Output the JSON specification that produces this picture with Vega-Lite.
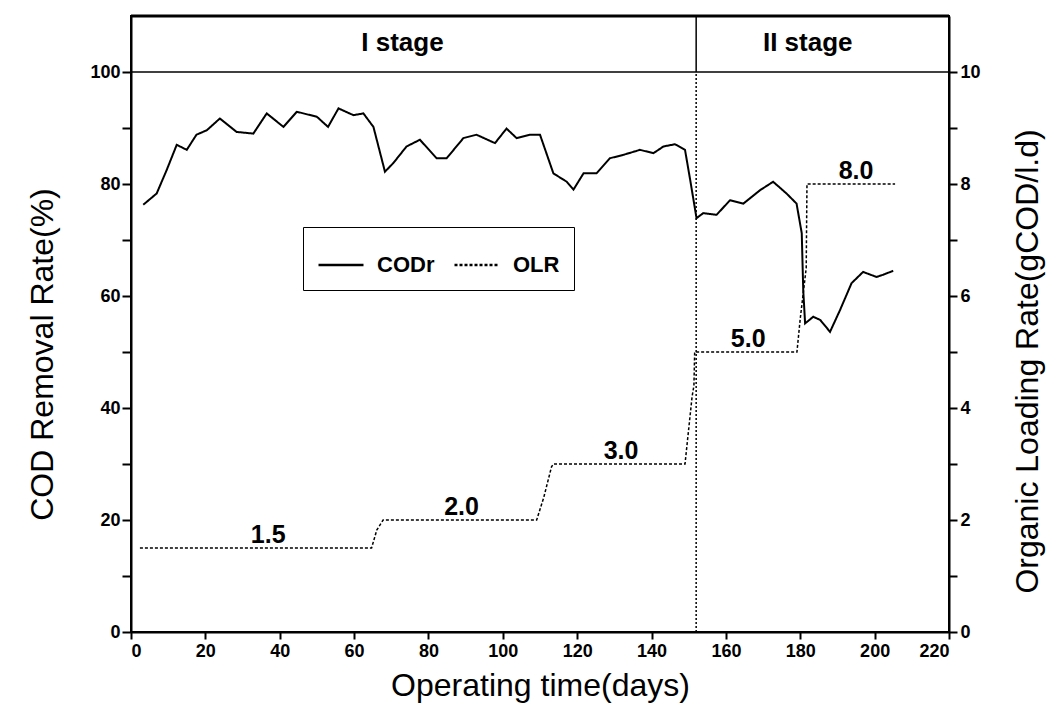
{
  "$schema": "https://vega.github.io/schema/vega-lite/v6.json",
  "width": 818,
  "height": 616,
  "autosize": {"type": "none"},
  "padding": {"left": 131, "top": 16, "right": 108, "bottom": 87},
  "background": "white",
  "config": {
    "font": "Liberation Sans",
    "view": {"stroke": "black", "strokeWidth": 2},
    "axis": {"domainColor": "black", "domainWidth": 2, "tickColor": "black", "tickWidth": 2, "labelColor": "black", "titleColor": "black", "grid": false, "labelFont": "Liberation Sans", "titleFont": "Liberation Sans", "labelFontSize": 18, "labelFontWeight": "bold", "titleFontSize": 32, "titleFontWeight": "normal"},
    "text": {"color": "black", "font": "Liberation Sans"}
  },
  "datasets": {
    "cod": [
      {"day": 3.3, "codr": 76.3}, {"day": 6.9, "codr": 78.3}, {"day": 9.6, "codr": 82.5}, {"day": 12.3, "codr": 87}, {"day": 15, "codr": 86.1},
      {"day": 17.6, "codr": 88.8}, {"day": 20.4, "codr": 89.6}, {"day": 23.9, "codr": 91.7}, {"day": 28.4, "codr": 89.3}, {"day": 32.9, "codr": 89},
      {"day": 36.5, "codr": 92.6}, {"day": 41, "codr": 90.2}, {"day": 44.6, "codr": 92.9}, {"day": 50, "codr": 92}, {"day": 53, "codr": 90.2},
      {"day": 55.8, "codr": 93.5}, {"day": 59.8, "codr": 92.3}, {"day": 62.5, "codr": 92.6}, {"day": 65.2, "codr": 90.2}, {"day": 68.3, "codr": 82.2},
      {"day": 70.5, "codr": 83.7}, {"day": 74.1, "codr": 86.7}, {"day": 77.7, "codr": 87.9}, {"day": 82.2, "codr": 84.6}, {"day": 84.9, "codr": 84.6},
      {"day": 89.4, "codr": 88.2}, {"day": 92.9, "codr": 88.8}, {"day": 97.9, "codr": 87.3}, {"day": 101, "codr": 89.9}, {"day": 103.7, "codr": 88.2},
      {"day": 107.3, "codr": 88.8}, {"day": 110, "codr": 88.8}, {"day": 113.6, "codr": 81.9}, {"day": 117.2, "codr": 80.4}, {"day": 119, "codr": 79},
      {"day": 121.7, "codr": 81.9}, {"day": 125.2, "codr": 81.9}, {"day": 128.8, "codr": 84.6}, {"day": 132.4, "codr": 85.2}, {"day": 136.9, "codr": 86.1},
      {"day": 140.5, "codr": 85.5}, {"day": 143.2, "codr": 86.7}, {"day": 146.3, "codr": 87.1}, {"day": 149, "codr": 86.1}, {"day": 150.4, "codr": 80.7},
      {"day": 151.3, "codr": 77.1}, {"day": 152.1, "codr": 73.9}, {"day": 153.9, "codr": 74.8}, {"day": 157.5, "codr": 74.5}, {"day": 161.1, "codr": 77.1},
      {"day": 164.7, "codr": 76.5}, {"day": 169.2, "codr": 78.9}, {"day": 172.7, "codr": 80.4}, {"day": 176.3, "codr": 78.3}, {"day": 179, "codr": 76.5},
      {"day": 180.4, "codr": 71.2}, {"day": 180.8, "codr": 61}, {"day": 181.3, "codr": 55.1}, {"day": 183.5, "codr": 56.3}, {"day": 185.4, "codr": 55.7},
      {"day": 188, "codr": 53.6}, {"day": 190.7, "codr": 57.5}, {"day": 193.8, "codr": 62.3}, {"day": 196.9, "codr": 64.3}, {"day": 200.5, "codr": 63.4},
      {"day": 202.3, "codr": 63.8}, {"day": 205, "codr": 64.5}
    ],
    "olr": [
      {"day": 2.4, "olr": 1.5}, {"day": 64.7, "olr": 1.5}, {"day": 66.1, "olr": 1.82}, {"day": 67.8, "olr": 2.0}, {"day": 109.1, "olr": 2.0},
      {"day": 111, "olr": 2.4}, {"day": 113.1, "olr": 2.95}, {"day": 113.6, "olr": 3.0}, {"day": 149, "olr": 3.0}, {"day": 150.9, "olr": 4.2},
      {"day": 151.4, "olr": 4.4}, {"day": 151.6, "olr": 5.0}, {"day": 179.1, "olr": 5.0}, {"day": 180.0, "olr": 5.6}, {"day": 181.6, "olr": 6.5},
      {"day": 181.8, "olr": 8.0}, {"day": 205.5, "olr": 8.0}
    ],
    "olrLabels": [
      {"day": 36.9, "olr": 1.5, "label": "1.5"},
      {"day": 88.9, "olr": 2.0, "label": "2.0"},
      {"day": 131.8, "olr": 3.0, "label": "3.0"},
      {"day": 166, "olr": 5.0, "label": "5.0"},
      {"day": 195, "olr": 8.0, "label": "8.0"}
    ],
    "stages": [
      {"day": 73, "label": "I stage"},
      {"day": 182, "label": "II stage"}
    ],
    "one": [{}]
  },
  "resolve": {"scale": {"y": "independent"}},
  "layer": [
    {
      "layer": [
        {
          "data": {"name": "cod"},
          "mark": {"type": "line", "color": "black", "strokeWidth": 2},
          "encoding": {
            "x": {"field": "day", "type": "quantitative", "scale": {"domain": [0, 220], "nice": false},
                  "axis": {"values": [0, 20, 40, 60, 80, 100, 120, 140, 160, 180, 200, 220], "tickSize": 7, "labelPadding": 3, "title": "Operating time(days)", "titlePadding": 10}},
            "y": {"field": "codr", "type": "quantitative", "scale": {"domain": [0, 110], "nice": false},
                  "axis": {"values": [0, 10, 20, 30, 40, 50, 60, 70, 80, 90, 100], "labelExpr": "datum.value % 20 == 0 ? datum.label : ''", "tickSize": 9, "labelPadding": 2,
                           "title": "COD Removal Rate(%)", "titleAngle": 270, "titleBaseline": "bottom", "titleAlign": "center", "titleX": -72, "titleY": 338}},
            "strokeDash": {"datum": "CODr", "type": "nominal",
              "scale": {"domain": ["CODr", "OLR"], "range": [[1, 0], [3, 2]]},
              "legend": {"orient": "none", "legendX": 172, "legendY": 211, "direction": "horizontal", "title": null,
                         "strokeColor": "black", "padding": 14, "symbolType": "stroke", "symbolSize": 2025, "symbolStrokeWidth": 2.5,
                         "symbolStrokeColor": "black", "labelFontSize": 22, "labelFontWeight": "bold", "labelFont": "Liberation Sans", "labelColor": "black", "labelOffset": 12, "columnPadding": 14}}
          }
        },
        {
          "data": {"name": "one"},
          "mark": {"type": "rule", "color": "black", "strokeWidth": 1.5},
          "encoding": {"y": {"datum": 100}}
        },
        {
          "data": {"name": "one"},
          "mark": {"type": "rule", "color": "black", "strokeWidth": 3},
          "encoding": {"y": {"datum": 110}}
        },
        {
          "data": {"name": "one"},
          "mark": {"type": "rule", "color": "black", "strokeWidth": 1.5, "strokeDash": [2, 2]},
          "encoding": {"x": {"datum": 152}, "y": {"datum": 0}, "y2": {"datum": 100}}
        },
        {
          "data": {"name": "one"},
          "mark": {"type": "rule", "color": "black", "strokeWidth": 1.5},
          "encoding": {"x": {"datum": 152}, "y": {"datum": 100}, "y2": {"datum": 110}}
        },
        {
          "data": {"name": "stages"},
          "mark": {"type": "text", "fontSize": 26, "fontWeight": "bold", "baseline": "middle", "align": "center"},
          "encoding": {"x": {"field": "day", "type": "quantitative"}, "y": {"datum": 105.2}, "text": {"field": "label"}}
        }
      ]
    },
    {
      "layer": [
        {
          "data": {"name": "olr"},
          "mark": {"type": "line", "color": "black", "strokeWidth": 1.5},
          "encoding": {
            "x": {"field": "day", "type": "quantitative"},
            "y": {"field": "olr", "type": "quantitative", "scale": {"domain": [0, 11], "nice": false},
                  "axis": {"orient": "right", "values": [0, 1, 2, 3, 4, 5, 6, 7, 8, 9, 10], "format": "d", "labelExpr": "datum.value % 2 == 0 ? datum.label : ''", "tickSize": 8, "labelPadding": 3,
                           "title": "Organic Loading Rate(gCOD/l.d)", "titleAngle": 270, "titleBaseline": "bottom", "titleAlign": "center", "titleX": 95, "titleY": 345}},
            "strokeDash": {"datum": "OLR", "type": "nominal"}
          }
        },
        {
          "data": {"name": "olrLabels"},
          "mark": {"type": "text", "fontSize": 25, "fontWeight": "bold", "baseline": "alphabetic", "align": "center", "dy": -5},
          "encoding": {"x": {"field": "day", "type": "quantitative"}, "y": {"field": "olr", "type": "quantitative"}, "text": {"field": "label"}}
        }
      ]
    }
  ]
}
